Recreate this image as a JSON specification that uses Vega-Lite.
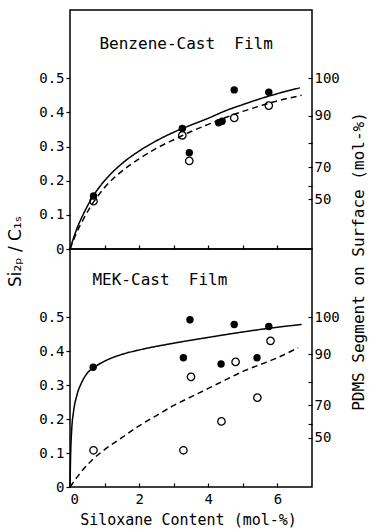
{
  "$schema": "https://vega.github.io/schema/vega-lite/v6.json",
  "background": "white",
  "padding": {"left": 5, "top": 9, "right": 6, "bottom": 4},
  "bounds": "flush",
  "spacing": 0,
  "config": {
    "view": {"stroke": "black", "strokeWidth": 1.5},
    "font": "DejaVu Sans Mono",
    "axis": {
      "domain": false, "grid": false, "tickColor": "black", "tickWidth": 1.2,
      "labelColor": "black", "titleColor": "black",
      "labelFont": "DejaVu Sans Mono", "labelFontSize": 14,
      "titleFont": "DejaVu Sans Mono", "titleFontSize": 15, "titleFontWeight": "normal"
    }
  },
  "datasets": {
    "points": [
      {"panel": "Benzene", "x": 0.68, "y": 0.155, "kind": "filled"},
      {"panel": "Benzene", "x": 3.25, "y": 0.353, "kind": "filled"},
      {"panel": "Benzene", "x": 3.45, "y": 0.282, "kind": "filled"},
      {"panel": "Benzene", "x": 4.3, "y": 0.37, "kind": "filled"},
      {"panel": "Benzene", "x": 4.4, "y": 0.374, "kind": "filled"},
      {"panel": "Benzene", "x": 4.75, "y": 0.466, "kind": "filled"},
      {"panel": "Benzene", "x": 5.75, "y": 0.459, "kind": "filled"},
      {"panel": "Benzene", "x": 0.68, "y": 0.14, "kind": "open"},
      {"panel": "Benzene", "x": 3.25, "y": 0.333, "kind": "open"},
      {"panel": "Benzene", "x": 3.45, "y": 0.258, "kind": "open"},
      {"panel": "Benzene", "x": 4.75, "y": 0.384, "kind": "open"},
      {"panel": "Benzene", "x": 5.75, "y": 0.42, "kind": "open"},
      {"panel": "MEK", "x": 0.67, "y": 0.352, "kind": "filled"},
      {"panel": "MEK", "x": 3.28, "y": 0.38, "kind": "filled"},
      {"panel": "MEK", "x": 3.47, "y": 0.492, "kind": "filled"},
      {"panel": "MEK", "x": 4.37, "y": 0.362, "kind": "filled"},
      {"panel": "MEK", "x": 4.75, "y": 0.478, "kind": "filled"},
      {"panel": "MEK", "x": 5.41, "y": 0.38, "kind": "filled"},
      {"panel": "MEK", "x": 5.75, "y": 0.472, "kind": "filled"},
      {"panel": "MEK", "x": 0.68, "y": 0.108, "kind": "open"},
      {"panel": "MEK", "x": 3.28, "y": 0.108, "kind": "open"},
      {"panel": "MEK", "x": 3.5, "y": 0.324, "kind": "open"},
      {"panel": "MEK", "x": 4.38, "y": 0.193, "kind": "open"},
      {"panel": "MEK", "x": 4.79, "y": 0.368, "kind": "open"},
      {"panel": "MEK", "x": 5.42, "y": 0.263, "kind": "open"},
      {"panel": "MEK", "x": 5.8, "y": 0.43, "kind": "open"}
    ],
    "curves": [
      {"panel": "Benzene", "curve": "solid", "x": 0, "y": 0},
      {"panel": "Benzene", "curve": "solid", "x": 0.2, "y": 0.06},
      {"panel": "Benzene", "curve": "solid", "x": 0.4, "y": 0.105},
      {"panel": "Benzene", "curve": "solid", "x": 0.7, "y": 0.16},
      {"panel": "Benzene", "curve": "solid", "x": 1.0, "y": 0.2},
      {"panel": "Benzene", "curve": "solid", "x": 1.5, "y": 0.25},
      {"panel": "Benzene", "curve": "solid", "x": 2.0, "y": 0.287},
      {"panel": "Benzene", "curve": "solid", "x": 2.5, "y": 0.317},
      {"panel": "Benzene", "curve": "solid", "x": 3.0, "y": 0.342},
      {"panel": "Benzene", "curve": "solid", "x": 3.5, "y": 0.363},
      {"panel": "Benzene", "curve": "solid", "x": 4.0, "y": 0.383},
      {"panel": "Benzene", "curve": "solid", "x": 4.5, "y": 0.405},
      {"panel": "Benzene", "curve": "solid", "x": 5.0, "y": 0.423},
      {"panel": "Benzene", "curve": "solid", "x": 5.5, "y": 0.44},
      {"panel": "Benzene", "curve": "solid", "x": 6.0, "y": 0.455},
      {"panel": "Benzene", "curve": "solid", "x": 6.65, "y": 0.472},
      {"panel": "Benzene", "curve": "dashed", "x": 0, "y": 0},
      {"panel": "Benzene", "curve": "dashed", "x": 0.2, "y": 0.05},
      {"panel": "Benzene", "curve": "dashed", "x": 0.4, "y": 0.09},
      {"panel": "Benzene", "curve": "dashed", "x": 0.7, "y": 0.14},
      {"panel": "Benzene", "curve": "dashed", "x": 1.0, "y": 0.18},
      {"panel": "Benzene", "curve": "dashed", "x": 1.5, "y": 0.228},
      {"panel": "Benzene", "curve": "dashed", "x": 2.0, "y": 0.264},
      {"panel": "Benzene", "curve": "dashed", "x": 2.5, "y": 0.295},
      {"panel": "Benzene", "curve": "dashed", "x": 3.0, "y": 0.32},
      {"panel": "Benzene", "curve": "dashed", "x": 3.5, "y": 0.344},
      {"panel": "Benzene", "curve": "dashed", "x": 4.0, "y": 0.365},
      {"panel": "Benzene", "curve": "dashed", "x": 4.5, "y": 0.385},
      {"panel": "Benzene", "curve": "dashed", "x": 5.0, "y": 0.403},
      {"panel": "Benzene", "curve": "dashed", "x": 5.5, "y": 0.419},
      {"panel": "Benzene", "curve": "dashed", "x": 6.0, "y": 0.434},
      {"panel": "Benzene", "curve": "dashed", "x": 6.7, "y": 0.45},
      {"panel": "MEK", "curve": "solid", "x": 0, "y": 0},
      {"panel": "MEK", "curve": "solid", "x": 0.02, "y": 0.1},
      {"panel": "MEK", "curve": "solid", "x": 0.05, "y": 0.17},
      {"panel": "MEK", "curve": "solid", "x": 0.1, "y": 0.22},
      {"panel": "MEK", "curve": "solid", "x": 0.2, "y": 0.27},
      {"panel": "MEK", "curve": "solid", "x": 0.35, "y": 0.31},
      {"panel": "MEK", "curve": "solid", "x": 0.5, "y": 0.335},
      {"panel": "MEK", "curve": "solid", "x": 0.7, "y": 0.352},
      {"panel": "MEK", "curve": "solid", "x": 1.0, "y": 0.37},
      {"panel": "MEK", "curve": "solid", "x": 1.5, "y": 0.39},
      {"panel": "MEK", "curve": "solid", "x": 2.0, "y": 0.403},
      {"panel": "MEK", "curve": "solid", "x": 3.0, "y": 0.423},
      {"panel": "MEK", "curve": "solid", "x": 4.0, "y": 0.44},
      {"panel": "MEK", "curve": "solid", "x": 5.0, "y": 0.456},
      {"panel": "MEK", "curve": "solid", "x": 6.0, "y": 0.47},
      {"panel": "MEK", "curve": "solid", "x": 6.7, "y": 0.478},
      {"panel": "MEK", "curve": "dashed", "x": 0, "y": 0},
      {"panel": "MEK", "curve": "dashed", "x": 0.25, "y": 0.035},
      {"panel": "MEK", "curve": "dashed", "x": 0.5, "y": 0.065},
      {"panel": "MEK", "curve": "dashed", "x": 0.7, "y": 0.085},
      {"panel": "MEK", "curve": "dashed", "x": 1.0, "y": 0.11},
      {"panel": "MEK", "curve": "dashed", "x": 1.5, "y": 0.145},
      {"panel": "MEK", "curve": "dashed", "x": 2.0, "y": 0.18},
      {"panel": "MEK", "curve": "dashed", "x": 2.5, "y": 0.21},
      {"panel": "MEK", "curve": "dashed", "x": 3.0, "y": 0.24},
      {"panel": "MEK", "curve": "dashed", "x": 3.5, "y": 0.265},
      {"panel": "MEK", "curve": "dashed", "x": 4.0, "y": 0.29},
      {"panel": "MEK", "curve": "dashed", "x": 4.5, "y": 0.315},
      {"panel": "MEK", "curve": "dashed", "x": 5.0, "y": 0.34},
      {"panel": "MEK", "curve": "dashed", "x": 5.5, "y": 0.36},
      {"panel": "MEK", "curve": "dashed", "x": 6.0, "y": 0.38},
      {"panel": "MEK", "curve": "dashed", "x": 6.6, "y": 0.41}
    ],
    "labels": [
      {"panel": "Benzene", "label": "Benzene-Cast\u00a0 Film"},
      {"panel": "MEK", "label": "MEK-Cast\u00a0 Film"}
    ]
  },
  "vconcat": [
    {
      "width": 242,
      "height": 239,
      "resolve": {"scale": {"y": "independent"}},
      "layer": [
        {
          "data": {"name": "points"},
          "transform": [{"filter": "datum.panel == 'Benzene' && datum.kind == 'filled'"}],
          "mark": {"type": "point", "filled": true, "color": "black", "size": 55, "opacity": 1},
          "encoding": {
            "x": {"field": "x", "type": "quantitative", "scale": {"domain": [0, 7], "nice": false},
              "axis": {"values": [0, 1, 2, 3, 4, 5, 6], "labels": false, "tickSize": -4, "title": null}},
            "y": {"field": "y", "type": "quantitative", "scale": {"domain": [0, 0.7], "nice": false},
              "axis": {"orient": "left", "values": [0, 0.1, 0.2, 0.3, 0.4, 0.5], "tickSize": 4, "labelPadding": 2,
                "labelExpr": "datum.value == 0 ? '0' : format(datum.value, '.1f')",
                "title": "Si\u2082\u209a / C\u2081\u209b", "titleFont": "DejaVu Sans", "titleFontSize": 17,
                "titleX": -55, "titleY": 241, "titleAngle": 270, "titleAlign": "center", "titleBaseline": "middle"}}
          }
        },
        {
          "data": {"name": "points"},
          "transform": [{"filter": "datum.panel == 'Benzene' && datum.kind == 'open'"}],
          "mark": {"type": "point", "filled": false, "color": "black", "size": 55, "strokeWidth": 1.3, "opacity": 1},
          "encoding": {
            "x": {"field": "x", "type": "quantitative"},
            "y": {"field": "y", "type": "quantitative", "scale": {"domain": [0, 0.7], "nice": false}, "axis": null}
          }
        },
        {
          "data": {"name": "labels"},
          "transform": [{"filter": "datum.panel == 'Benzene'"}],
          "mark": {"type": "text", "font": "DejaVu Sans Mono", "fontSize": 16, "color": "black", "align": "center", "baseline": "middle"},
          "encoding": {
            "x": {"datum": 3.36, "type": "quantitative"},
            "y": {"datum": 0.6, "type": "quantitative", "scale": {"domain": [0, 0.7], "nice": false}, "axis": null},
            "text": {"field": "label"}
          }
        },
        {
          "data": {"name": "curves"},
          "transform": [{"filter": "datum.panel == 'Benzene'"}],
          "mark": {"type": "line", "color": "black", "strokeWidth": 1.5, "interpolate": "monotone"},
          "encoding": {
            "x": {"field": "x", "type": "quantitative"},
            "y": {"field": "y", "type": "quantitative", "scale": {"domain": [0, 0.7], "nice": false},
              "axis": {"orient": "right", "values": [0.5, 0.39, 0.31, 0.24, 0.185, 0.145], "tickSize": -4, "labelPadding": 6,
                "labelExpr": "datum.value == 0.5 ? '100' : datum.value == 0.39 ? '90' : datum.value == 0.24 ? '70' : datum.value == 0.145 ? '50' : ''",
                "title": "PDMS Segment on Surface (mol-%)", "titleFontSize": 16,
                "titleX": 46, "titleY": 251, "titleAngle": 270, "titleAlign": "center", "titleBaseline": "middle"}},
            "detail": {"field": "curve"},
            "strokeDash": {"field": "curve", "type": "nominal", "scale": {"domain": ["solid", "dashed"], "range": [[1, 0], [6, 4]]}, "legend": null}
          }
        }
      ]
    },
    {
      "width": 242,
      "height": 238,
      "resolve": {"scale": {"y": "independent"}},
      "layer": [
        {
          "data": {"name": "points"},
          "transform": [{"filter": "datum.panel == 'MEK' && datum.kind == 'filled'"}],
          "mark": {"type": "point", "filled": true, "color": "black", "size": 55, "opacity": 1},
          "encoding": {
            "x": {"field": "x", "type": "quantitative", "scale": {"domain": [0, 7], "nice": false},
              "axis": {"values": [0, 1, 2, 3, 4, 5, 6], "tickSize": -4, "labelPadding": 9,
                "labelExpr": "datum.value % 2 == 0 ? datum.label : ''",
                "title": "Siloxane Content (mol-%)", "titleX": 118, "titleY": 32, "titleAlign": "center", "titleBaseline": "middle"}},
            "y": {"field": "y", "type": "quantitative", "scale": {"domain": [0, 0.7], "nice": false},
              "axis": {"orient": "left", "values": [0, 0.1, 0.2, 0.3, 0.4, 0.5], "tickSize": 4, "labelPadding": 2,
                "labelExpr": "datum.value == 0 ? '0' : format(datum.value, '.1f')", "title": null}}
          }
        },
        {
          "data": {"name": "points"},
          "transform": [{"filter": "datum.panel == 'MEK' && datum.kind == 'open'"}],
          "mark": {"type": "point", "filled": false, "color": "black", "size": 55, "strokeWidth": 1.3, "opacity": 1},
          "encoding": {
            "x": {"field": "x", "type": "quantitative"},
            "y": {"field": "y", "type": "quantitative", "scale": {"domain": [0, 0.7], "nice": false}, "axis": null}
          }
        },
        {
          "data": {"name": "labels"},
          "transform": [{"filter": "datum.panel == 'MEK'"}],
          "mark": {"type": "text", "font": "DejaVu Sans Mono", "fontSize": 16, "color": "black", "align": "center", "baseline": "middle"},
          "encoding": {
            "x": {"datum": 2.6, "type": "quantitative"},
            "y": {"datum": 0.61, "type": "quantitative", "scale": {"domain": [0, 0.7], "nice": false}, "axis": null},
            "text": {"field": "label"}
          }
        },
        {
          "data": {"name": "curves"},
          "transform": [{"filter": "datum.panel == 'MEK'"}],
          "mark": {"type": "line", "color": "black", "strokeWidth": 1.5, "interpolate": "monotone"},
          "encoding": {
            "x": {"field": "x", "type": "quantitative"},
            "y": {"field": "y", "type": "quantitative", "scale": {"domain": [0, 0.7], "nice": false},
              "axis": {"orient": "right", "values": [0.5, 0.39, 0.31, 0.24, 0.185, 0.145], "tickSize": -4, "labelPadding": 6,
                "labelExpr": "datum.value == 0.5 ? '100' : datum.value == 0.39 ? '90' : datum.value == 0.24 ? '70' : datum.value == 0.145 ? '50' : ''",
                "title": null}},
            "detail": {"field": "curve"},
            "strokeDash": {"field": "curve", "type": "nominal", "scale": {"domain": ["solid", "dashed"], "range": [[1, 0], [6, 4]]}, "legend": null}
          }
        }
      ]
    }
  ]
}
